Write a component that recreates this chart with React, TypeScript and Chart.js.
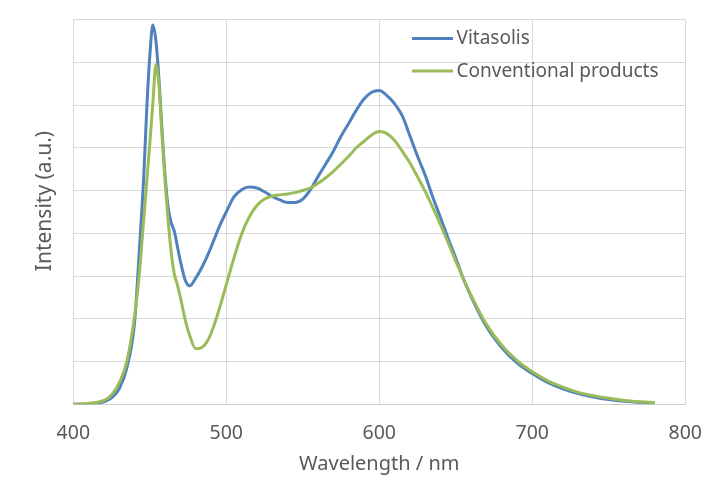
import { useEffect, useRef } from "react";
import { Chart, registerables } from "chart.js";

Chart.register(...registerables);

const wavelengths = [
  400, 410, 420, 425, 430, 435, 440, 443, 446, 448, 450, 452, 454, 456, 458, 460,
  462, 464, 466, 468, 470, 473, 476, 480, 484, 488, 492, 496, 500,
  505, 510, 515, 520, 525, 530, 535, 540, 545, 550, 555, 560, 565, 570, 575, 580,
  585, 590, 595, 600, 605, 610, 615, 620, 625, 630, 635, 640, 645, 650, 655, 660,
  670, 680, 690, 700, 710, 720, 730, 740, 750, 760, 770, 780,
];

const vitasolis = [
  0, 0.01, 0.06, 0.15, 0.36, 0.85, 1.9, 3.5, 5.3, 6.9, 8.15, 8.87, 8.5, 7.6, 6.4, 5.35,
  4.6, 4.25, 4.05, 3.7, 3.35, 2.92, 2.77, 2.95, 3.2, 3.5, 3.85, 4.2, 4.5,
  4.85, 5.02, 5.08, 5.06, 4.97, 4.86, 4.78, 4.72, 4.72, 4.8, 5.02, 5.33, 5.62, 5.92, 6.27, 6.57,
  6.88, 7.14, 7.3, 7.34, 7.22, 7.03, 6.75, 6.28, 5.8, 5.36, 4.84, 4.37, 3.88, 3.42, 2.93, 2.52,
  1.82, 1.33, 0.97, 0.72, 0.51, 0.36, 0.25, 0.17, 0.11, 0.07, 0.05, 0.03,
];

const conventional = [
  0, 0.02, 0.09, 0.22, 0.5, 1.0, 2.05, 3.0, 4.3, 5.2, 6.1, 7.05, 7.95, 7.45, 6.3, 5.2,
  4.3, 3.55, 3.05, 2.8, 2.5, 2.0, 1.62, 1.3, 1.33, 1.5, 1.85, 2.3, 2.8,
  3.42, 3.98, 4.38, 4.65, 4.8, 4.87, 4.9, 4.92, 4.95, 5.0, 5.06, 5.17, 5.3, 5.45, 5.62, 5.8,
  6.0, 6.15, 6.3, 6.38, 6.33, 6.17, 5.92, 5.65, 5.32, 4.98, 4.6, 4.2, 3.78, 3.35, 2.93, 2.55,
  1.87, 1.38, 1.02, 0.76, 0.55, 0.4, 0.28, 0.2, 0.14, 0.09, 0.06, 0.04,
];

const seriesNames = ["Vitasolis", "Conventional products"];
const seriesColors = ["#4F81BD", "#9BBB59"];
const xTitle = "Wavelength / nm";
const yTitle = "Intensity (a.u.)";
const xMin = 400;
const xMax = 800;
const xStep = 100;
const yMax = 9;

const FONT = "'Noto Sans', sans-serif";
const TEXT = "#595959";
const GRID = "#d9d9d9";

const overlayPlugin = {
  id: "overlay",
  afterDraw(chart: any) {
    const ctx = chart.ctx;
    ctx.save();
    // y-axis title
    ctx.fillStyle = TEXT;
    ctx.font = `21px ${FONT}`;
    ctx.textAlign = "center";
    ctx.textBaseline = "middle";
    ctx.translate(45, 201);
    ctx.rotate(-Math.PI / 2);
    ctx.fillText(yTitle, 0, 0);
    ctx.restore();

    // legend
    ctx.save();
    const rows = [38.5, 71];
    ctx.font = `19px ${FONT}`;
    ctx.textBaseline = "middle";
    ctx.textAlign = "left";
    seriesNames.forEach((name, i) => {
      ctx.strokeStyle = seriesColors[i];
      ctx.lineWidth = 3;
      ctx.beginPath();
      ctx.moveTo(412, rows[i]);
      ctx.lineTo(453, rows[i]);
      ctx.stroke();
      ctx.fillStyle = TEXT;
      ctx.fillText(name, 456.5, rows[i] + 0.5);
    });
    ctx.restore();
  },
};

export default function App() {
  const ref = useRef<HTMLCanvasElement>(null);

  useEffect(() => {
    if (!ref.current) return;
    const series = [vitasolis, conventional];
    const chart = new Chart(ref.current, {
      type: "line",
      data: {
        datasets: series.map((vals, i) => ({
          label: seriesNames[i],
          data: wavelengths.map((w, j) => ({ x: w, y: vals[j] })),
          borderColor: seriesColors[i],
          backgroundColor: seriesColors[i],
          borderWidth: 3,
          pointRadius: 0,
          cubicInterpolationMode: "monotone" as const,
          order: i === 0 ? 1 : 0,
        })),
      },
      options: {
        animation: false,
        responsive: false,
        layout: { padding: { top: 19.5, right: 32.3, left: 0, bottom: 0 } },
        plugins: {
          legend: { display: false },
          tooltip: { enabled: false },
        },
        scales: {
          x: {
            type: "linear",
            min: xMin,
            max: xMax,
            ticks: {
              stepSize: xStep,
              color: TEXT,
              font: { family: FONT, size: 19.5 },
              padding: 17,
              maxRotation: 0,
            },
            grid: { color: GRID, drawTicks: false, lineWidth: 1 },
            border: { color: "#cfcfcf" },
            title: {
              display: true,
              text: xTitle,
              color: TEXT,
              font: { family: FONT, size: 20 },
              padding: { top: 0, bottom: 4 },
            },
            afterFit: (s: any) => {
              s.height = 75.7;
            },
          },
          y: {
            type: "linear",
            min: 0,
            max: yMax,
            ticks: { display: false, stepSize: 1 },
            grid: { color: GRID, drawTicks: false, lineWidth: 1 },
            border: { display: false },
            afterFit: (s: any) => {
              s.width = 73.3;
            },
          },
        },
      },
      plugins: [overlayPlugin],
    });
    return () => chart.destroy();
  }, []);

  return (
    <div style={{ position: "absolute", left: 0, top: 0, width: 719, height: 480, background: "#fff" }}>
      <canvas ref={ref} width={719} height={480} style={{ width: 719, height: 480, display: "block" }} />
    </div>
  );
}
